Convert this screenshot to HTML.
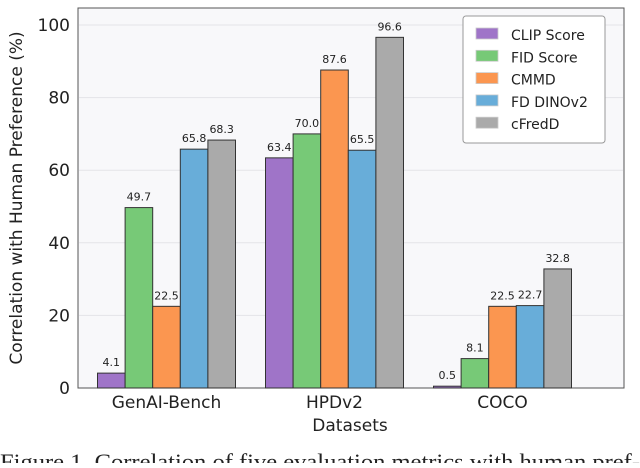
<!DOCTYPE html>
<html><head><meta charset="utf-8"><style>
body{margin:0;background:#fff;width:640px;height:463px;overflow:hidden}
svg text{font-family:"DejaVu Sans","Liberation Sans",sans-serif;fill:#222}
</style></head><body>
<svg id="c" width="640" height="463">
<rect x="78" y="8" width="546" height="380" fill="#f8f8fa" stroke="#555" stroke-width="1"/>
<g id="grid"></g><g id="bars"></g><g id="axes"></g>
<text x="350" y="431" font-size="17" text-anchor="middle">Datasets</text>
<text transform="translate(22,198) rotate(-90)" font-size="17" text-anchor="middle">Correlation with Human Preference (%)</text>
<text x="0" y="469" style="font-family:'Liberation Serif',serif" font-size="22" textLength="640" lengthAdjust="spacingAndGlyphs">Figure 1. Correlation of five evaluation metrics with human pref-</text>
<g id="legend"></g>
</svg>
<script>
const categories=["GenAI-Bench","HPDv2","COCO"];
const seriesNames=["CLIP Score","FID Score","CMMD","FD DINOv2","cFredD"];
const colors=["#9f74c8","#77c977","#fb9650","#68add9","#aaaaaa"];
const clipScore=[4.1,63.4,0.5];
const fidScore=[49.7,70.0,8.1];
const cmmd=[22.5,87.6,22.5];
const fdDinov2=[65.8,65.5,22.7];
const cfredd=[68.3,96.6,32.8];
const yTicks=[0,20,40,60,80,100];
const series=[clipScore,fidScore,cmmd,fdDinov2,cfredd];
const NS="http://www.w3.org/2000/svg";
const y=v=>388-v*3.63;
const gx=i=>166.5+i*168;
const bw=27.6;
function mk(tag,attrs,parent,txt){const e=document.createElementNS(NS,tag);for(const k in attrs)e.setAttribute(k,attrs[k]);if(txt!==undefined)e.textContent=txt;document.getElementById(parent).appendChild(e);return e;}
yTicks.forEach(t=>{
  if(t>0){const g=mk('line',{x1:79,x2:623,y1:y(t),y2:y(t),stroke:'#e4e4e8','stroke-width':1},'grid');
  
  }
  const l=mk('text',{x:70,y:y(t)+6,'font-size':17,'text-anchor':'end'},'axes',String(t));
  
  
});
categories.forEach((c,i)=>{
  const l=mk('text',{x:gx(i),y:408,'font-size':17,'text-anchor':'middle'},'axes',c);
  
  
  series.forEach((s,j)=>{
    const v=s[i];const x=gx(i)+(j-2.5)*bw;
    const r=mk('rect',{x:x,y:y(v),width:bw,height:388-y(v),fill:colors[j],stroke:'#333','stroke-width':1},'bars');
    
    
    const t=mk('text',{x:x+bw/2,y:y(v)-7,'font-size':11,'text-anchor':'middle'},'bars',v.toFixed(1));
    
    
  });
});
const lb=mk('rect',{x:463,y:16,width:142,height:127,rx:3,fill:'#fff',stroke:'#999','stroke-width':1},'legend');


seriesNames.forEach((n,j)=>{
  const yy=34+j*22.3;
  const sw=mk('rect',{x:476,y:yy-6,width:22,height:11,fill:colors[j],stroke:'#ccc','stroke-width':0.8},'legend');
  
  
  const t=mk('text',{x:511,y:yy+6,'font-size':14},'legend',n);
  
  
});
</script>
</body></html>
